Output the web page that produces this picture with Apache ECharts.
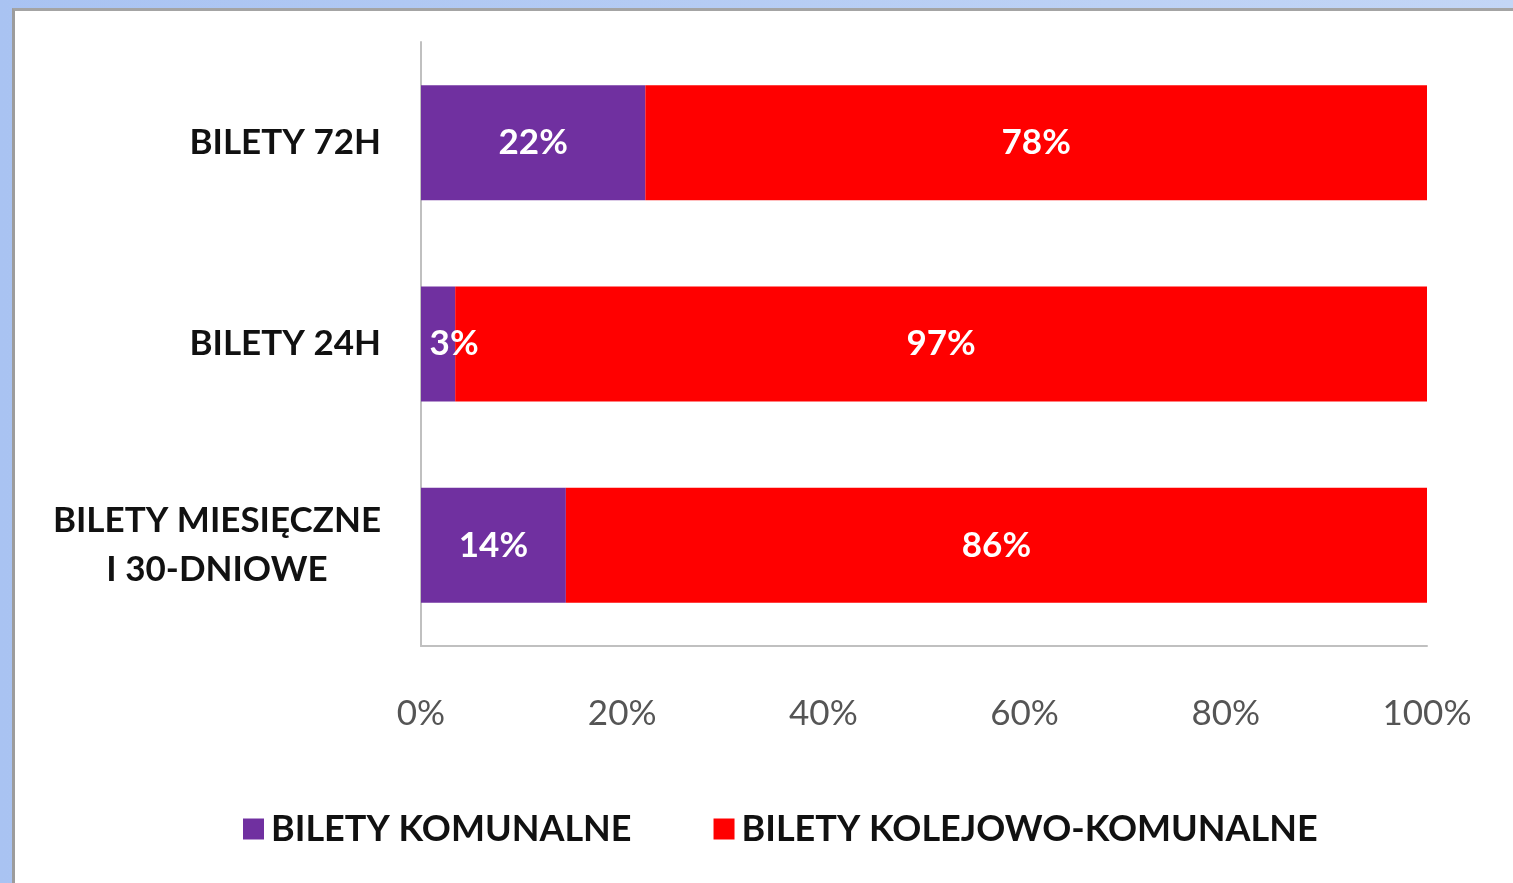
<!DOCTYPE html>
<html>
<head>
<meta charset="utf-8">
<script src="https://cdn.jsdelivr.net/npm/echarts@6/dist/echarts.min.js"></script>
<style>
  html, body { margin: 0; padding: 0; width: 1513px; height: 883px; overflow: hidden; }
  body { background: linear-gradient(90deg, #a9c3f2, #c3d6f6); position: relative; }
  #frame {
    position: absolute; left: 12px; top: 8px; width: 1501px; height: 875px;
    background: #fff; border-left: 3px solid #9c9c9c; border-top: 3px solid #a4a4a4;
    box-sizing: border-box;
  }
  #chart { position: absolute; left: 0; top: 0; width: 1513px; height: 883px; }
</style>
</head>
<body>
<div id="frame"></div>
<div id="chart"></div>
<script>
  // categories, bottom to top as echarts draws them
  const categories = ['BILETY MIESIĘCZNE\nI 30-DNIOWE', 'BILETY 24H', 'BILETY 72H'];
  const seriesNames = ['BILETY KOMUNALNE', 'BILETY KOLEJOWO-KOMUNALNE'];
  const komunalne = [14.4, 3.4, 22.3];
  const kolejowo = [85.6, 96.6, 77.7];
  const xTicks = ['0%', '20%', '40%', '60%', '80%', '100%'];

  const font = 'Lato, "Open Sans", "Liberation Sans", sans-serif';

  const chart = echarts.init(document.getElementById('chart'));

  const labelStyle = {
    show: true,
    position: 'inside',
    color: '#fff',
    fontFamily: font,
    fontWeight: 'bold',
    fontSize: 35,
    formatter: p => Math.round(p.value) + '%'
  };

  const option = {
    backgroundColor: 'transparent',
    animation: false,
    textStyle: { fontFamily: font },
    grid: { left: 421, right: 86, top: 42, bottom: 237, containLabel: false },
    legend: {
      left: 238,
      top: 806,
      itemWidth: 21,
      itemHeight: 21,
      itemGap: 82,
      icon: 'rect',
      textStyle: { color: '#111', fontSize: 36, fontWeight: 'bold', fontFamily: font, padding: [0, 0, 0, 2] },
      data: seriesNames
    },
    xAxis: {
      type: 'value',
      min: 0,
      max: 100,
      interval: 20,
      axisLine: { show: true, lineStyle: { color: '#c0c0c0', width: 2 } },
      axisTick: { show: false },
      splitLine: { show: false },
      axisLabel: {
        margin: 50,
        color: '#555',
        fontSize: 35,
        fontFamily: font,
        formatter: v => xTicks[v / 20]
      }
    },
    yAxis: {
      type: 'category',
      data: categories,
      axisLine: { show: true, lineStyle: { color: '#c0c0c0', width: 2 } },
      axisTick: { show: false },
      axisLabel: {
        margin: 40,
        color: '#111',
        fontSize: 35,
        fontWeight: 'bold',
        fontFamily: font,
        lineHeight: 49,
        formatter: v => v.indexOf('\n') >= 0
          ? v.split('\n').map(s => '{c|' + s + '}').join('\n')
          : v,
        rich: {
          c: { align: 'center', fontSize: 35, fontWeight: 'bold', color: '#111', fontFamily: font, lineHeight: 49 }
        }
      }
    },
    series: [
      {
        name: seriesNames[0],
        type: 'bar',
        stack: 'total',
        barWidth: 115,
        itemStyle: { color: '#7030a0' },
        label: labelStyle,
        data: komunalne.map(v => v < 5 ? { value: v, label: { offset: [16, 0] } } : v)
      },
      {
        name: seriesNames[1],
        type: 'bar',
        stack: 'total',
        barWidth: 115,
        itemStyle: { color: '#ff0000' },
        label: labelStyle,
        data: kolejowo
      }
    ]
  };

  chart.setOption(option);
</script>
</body>
</html>
